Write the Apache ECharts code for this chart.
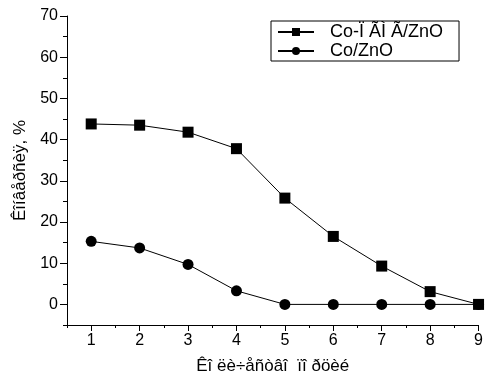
<!DOCTYPE html>
<html><head><meta charset="utf-8">
<script src="https://cdn.jsdelivr.net/npm/echarts@6/dist/echarts.min.js"></script>
<style>html,body{margin:0;padding:0;background:#fff}#c{width:486px;height:381px}</style>
</head><body><div id="c"></div>
<script>
const xValues = [1, 2, 3, 4, 5, 6, 7, 8, 9];
const seriesNames = ['Co-Ï ÃÌ Ã/ZnO', 'Co/ZnO'];
const squareValues = [43.8, 43.5, 41.8, 37.8, 25.8, 16.5, 9.3, 3.1, 0];
const circleValues = [15.3, 13.7, 9.7, 3.3, 0, 0, 0, 0, 0];
const xTickLabels = [1, 2, 3, 4, 5, 6, 7, 8, 9];
const xMinorTicks = [0.5, 1.5, 2.5, 3.5, 4.5, 5.5, 6.5, 7.5, 8.5];
const yTickLabels = [0, 10, 20, 30, 40, 50, 60, 70];
const yMinorTicks = [-5, 5, 15, 25, 35, 45, 55, 65];
const xName = 'Êî ëè÷åñòâî  ïî ðöèé';
const yName = 'Êîíâåðñèÿ, %';

const font = '"Liberation Sans", Arial, sans-serif';
const chart = echarts.init(document.getElementById('c'));
const pair = (xs, ys) => xs.map((x, i) => [x, ys[i]]);
chart.setOption({
  animation: false,
  grid: { left: 67, right: 5, top: 16, bottom: 56 },
  legend: {
    left: 271, top: 21, orient: 'vertical',
    borderColor: '#000', borderWidth: 1, borderRadius: 0,
    padding: [2, 16, 1, 6], itemGap: 1, itemWidth: 36, itemHeight: 10,
    textStyle: { fontFamily: font, fontSize: 18, color: '#000', padding: [0, 0, 0, 11] },
    data: seriesNames
  },
  xAxis: [{
    type: 'value', min: 0.5, max: 9,
    name: xName, nameLocation: 'middle', nameGap: 33,
    nameTextStyle: { fontFamily: font, fontSize: 17, color: '#000' },
    axisLine: { show: true, onZero: false, lineStyle: { color: '#000', width: 1 } },
    axisTick: { show: true, inside: false, length: 6, customValues: xTickLabels, lineStyle: { color: '#000' } },
    axisLabel: { customValues: xTickLabels, fontFamily: font, fontSize: 16, color: '#000', margin: 8 },
    splitLine: { show: false }
  }, {
    type: 'value', min: 0.5, max: 9, position: 'bottom',
    axisLine: { show: false, onZero: false },
    axisTick: { show: true, length: 3, customValues: xMinorTicks, lineStyle: { color: '#000' } },
    axisLabel: { show: false },
    splitLine: { show: false }
  }],
  yAxis: [{
    type: 'value', min: -5, max: 70,
    name: yName, nameLocation: 'middle', nameGap: 29, nameRotate: 90,
    nameTextStyle: { fontFamily: font, fontSize: 17, color: '#000' },
    axisLine: { show: true, onZero: false, lineStyle: { color: '#000', width: 1 } },
    axisTick: { show: true, length: 7, customValues: yTickLabels, lineStyle: { color: '#000' } },
    axisLabel: { customValues: yTickLabels, fontFamily: font, fontSize: 16, color: '#000', margin: 9 },
    splitLine: { show: false }
  }, {
    type: 'value', min: -5, max: 70, position: 'left',
    axisLine: { show: false, onZero: false },
    axisTick: { show: true, length: 4, customValues: yMinorTicks, lineStyle: { color: '#000' } },
    axisLabel: { show: false },
    splitLine: { show: false }
  }],
  series: [{
    name: seriesNames[0], type: 'line', symbol: 'rect', symbolSize: 11,
    data: pair(xValues, squareValues),
    lineStyle: { color: '#000', width: 1 }, itemStyle: { color: '#000' }
  }, {
    name: seriesNames[1], type: 'line', symbol: 'circle', symbolSize: 11,
    data: pair(xValues, circleValues),
    lineStyle: { color: '#000', width: 1 }, itemStyle: { color: '#000' }
  }]
});
</script></body></html>
